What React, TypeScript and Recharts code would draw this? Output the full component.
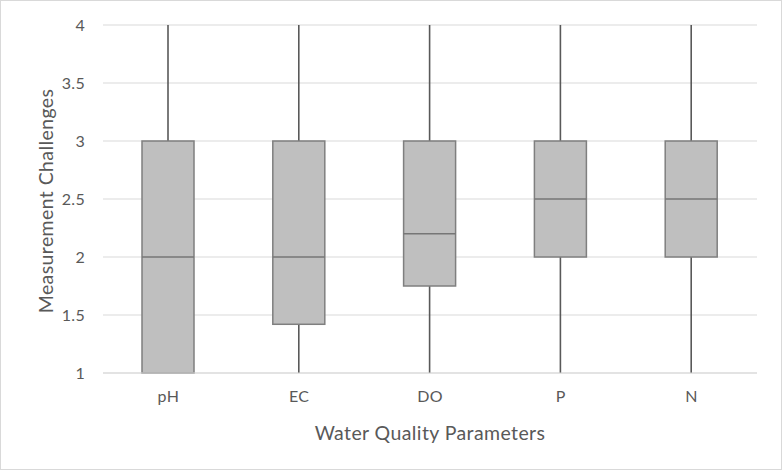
import { Bar, CartesianGrid, ComposedChart, Label, XAxis, YAxis } from "recharts";

const categories = ["pH", "EC", "DO", "P", "N"];
const minValues = [1, 1, 1, 1, 1];
const q1Values = [1, 1.42, 1.75, 2, 2];
const medianValues = [2, 2, 2.2, 2.5, 2.5];
const q3Values = [3, 3, 3, 3, 3];
const maxValues = [4, 4, 4, 4, 4];
const yTicks = [1, 1.5, 2, 2.5, 3, 3.5, 4];

const data = categories.map((name, i) => ({
  name,
  min: minValues[i],
  q1: q1Values[i],
  median: medianValues[i],
  q3: q3Values[i],
  max: maxValues[i],
  range: [minValues[i], maxValues[i]],
}));

const FONT = "Lato, 'Open Sans', sans-serif";
const TEXT = "#595959";

// whole box drawn from the [min, max] range bar that recharts already scaled
function BoxShape(props: any) {
  const { x, y, width, height, payload } = props;
  const { min, q1, median, q3, max } = payload;
  const toY = (v: number) => y + ((max - v) / (max - min)) * height;
  const cx = x + width / 2;
  return (
    <g>
      <line x1={cx} x2={cx} y1={toY(max)} y2={toY(q3)} stroke="#595959" strokeWidth={1.6} />
      <line x1={cx} x2={cx} y1={toY(q1)} y2={toY(min)} stroke="#595959" strokeWidth={1.6} />
      <rect
        x={x}
        y={toY(q3)}
        width={width}
        height={toY(q1) - toY(q3)}
        fill="#bfbfbf"
        stroke="#7f7f7f"
        strokeWidth={1.5}
      />
      <line x1={x} x2={x + width} y1={toY(median)} y2={toY(median)} stroke="#767676" strokeWidth={1.5} />
    </g>
  );
}

export default function App() {
  return (
    <div style={styles.frame}>
      <ComposedChart
        width={780}
        height={468}
        data={data}
        margin={{ top: 24, right: 24, left: 0, bottom: 36 }}
      >
        <CartesianGrid stroke="#d9d9d9" strokeWidth={1.2} vertical={false} />
        <XAxis
          dataKey="name"
          height={60}
          axisLine={{ stroke: "#d9d9d9", strokeWidth: 1.2 }}
          tickLine={false}
          tickSize={8}
          tickMargin={10}
          tick={{ fill: TEXT, fontSize: 16, fontFamily: FONT, letterSpacing: 0.3 }}
        >
          <Label
            content={({ viewBox }: any) => (
              <text
                x={viewBox.x + viewBox.width / 2}
                y={viewBox.y + 67}
                textAnchor="middle"
                fill={TEXT}
                fontSize={19.5}
                letterSpacing={0.4}
                fontFamily={FONT}
              >
                Water Quality Parameters
              </text>
            )}
          />
        </XAxis>
        <YAxis
          type="number"
          domain={[1, 4]}
          ticks={yTicks}
          width={102}
          axisLine={false}
          tickLine={false}
          tickSize={8}
          tickMargin={10}
          tick={{ fill: TEXT, fontSize: 16, fontFamily: FONT, letterSpacing: 0.3 }}
        >
          <Label
            content={({ viewBox }: any) => {
              const lx = 44;
              const ly = viewBox.y + viewBox.height / 2 + 2;
              return (
                <text
                  x={lx}
                  y={ly}
                  transform={`rotate(-90 ${lx} ${ly})`}
                  textAnchor="middle"
                  dominantBaseline="central"
                  fill={TEXT}
                  fontSize={19.5}
                  letterSpacing={0.4}
                  fontFamily={FONT}
                >
                  Measurement Challenges
                </text>
              );
            }}
          />
        </YAxis>
        <Bar dataKey="range" barSize={52} shape={BoxShape} isAnimationActive={false} />
      </ComposedChart>
    </div>
  );
}

const styles: Record<string, React.CSSProperties> = {
  frame: {
    position: "absolute",
    left: 0,
    top: 0,
    width: 780,
    height: 468,
    border: "1px solid #d9d9d9",
    background: "#ffffff",
  },
};
